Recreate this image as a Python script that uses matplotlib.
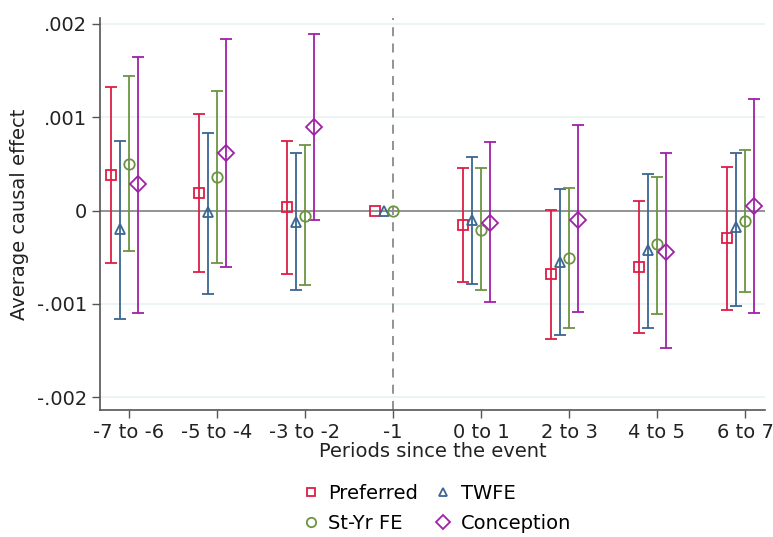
import numpy as np
import matplotlib
matplotlib.use("Agg")
import matplotlib.pyplot as plt

# event-time bins
periods = ["-7 to -6", "-5 to -4", "-3 to -2", "-1", "0 to 1", "2 to 3", "4 to 5", "6 to 7"]

# point estimates and CI bounds
pref_est = [0.00038, 0.000185, 0.000035, 0.0, -0.00016, -0.00068, -0.00061, -0.00029]
pref_lo = [-0.00056, -0.00066, -0.00068, np.nan, -0.00077, -0.00138, -0.00131, -0.00107]
pref_hi = [0.00132, 0.00103, 0.00075, np.nan, 0.00046, 0.00001, 0.0001, 0.00047]

twfe_est = [-0.0002, -0.00002, -0.00012, 0.0, -0.0001, -0.00055, -0.00042, -0.00018]
twfe_lo = [-0.00116, -0.00089, -0.00085, np.nan, -0.00079, -0.00133, -0.00126, -0.00102]
twfe_hi = [0.00075, 0.00083, 0.00062, np.nan, 0.00057, 0.00023, 0.00039, 0.00062]

styr_est = [0.0005, 0.00036, -0.00006, 0.0, -0.00021, -0.00051, -0.00036, -0.00011]
styr_lo = [-0.00043, -0.00056, -0.0008, np.nan, -0.00085, -0.00126, -0.00111, -0.00087]
styr_hi = [0.00144, 0.00128, 0.0007, np.nan, 0.00046, 0.00024, 0.00036, 0.00065]

conc_est = [0.00028, 0.000615, 0.00089, np.nan, -0.00013, -0.0001, -0.00044, 0.00005]
conc_lo = [-0.0011, -0.00061, -0.0001, np.nan, -0.00098, -0.00109, -0.00147, -0.0011]
conc_hi = [0.00165, 0.00184, 0.00189, np.nan, 0.00073, 0.00092, 0.00062, 0.0012]

series = [
    ("Preferred", pref_est, pref_lo, pref_hi, "#dc1e46", "s", -0.2, 7),
    ("TWFE", twfe_est, twfe_lo, twfe_hi, "#3a6792", "^", -0.1, 7),
    ("St-Yr FE", styr_est, styr_lo, styr_hi, "#6b9442", "o", 0.0, 7.5),
    ("Conception", conc_est, conc_lo, conc_hi, "#a020a8", "D", 0.1, 8),
]

FS = 14

fig = plt.figure(figsize=(7.73, 5.37), dpi=100)
ax = fig.add_axes([0.129, 0.236, 0.861, 0.73])

x = np.arange(len(periods))

for y in [-0.002, -0.001, 0.001, 0.002]:
    ax.axhline(y, color="#eaf2f3", lw=1.2, zorder=0)
ax.axhline(0, color="#8a8a8a", lw=1.3, zorder=1)
ax.axvline(3, color="#8a8a8a", lw=1.3, ls=(0, (5, 4)), zorder=1)

handles = {}
for name, est, lo, hi, col, mk, off, ms in series:
    est = np.array(est)
    lo = np.array(lo)
    hi = np.array(hi)
    xs = x + off
    ok = ~np.isnan(lo)
    ax.errorbar(xs[ok], est[ok], yerr=[est[ok] - lo[ok], hi[ok] - est[ok]],
                fmt="none", ecolor=col, elinewidth=1.3, capsize=4, capthick=1.3, zorder=2)
    h, = ax.plot(xs, est, ls="none", marker=mk, ms=ms, mfc="none", mec=col, mew=1.3, zorder=3)
    handles[name] = h

ax.set_xlim(-0.33, 7.23)
ax.set_ylim(-0.00214, 0.00206)
ax.set_xticks(x)
ax.set_xticklabels(periods, fontsize=FS)
ax.set_yticks([-0.002, -0.001, 0, 0.001, 0.002])
ax.set_yticklabels(["-.002", "-.001", "0", ".001", ".002"], fontsize=FS)
ax.tick_params(axis="both", length=6, width=1, color="#555555", labelcolor="#222222", pad=3)
ax.set_xlabel("Periods since the event", fontsize=FS, labelpad=0, color="#222222")
ax.set_ylabel("Average causal effect", fontsize=FS, color="#222222", labelpad=6)

for s in ["top", "right"]:
    ax.spines[s].set_visible(False)
for s in ["left", "bottom"]:
    ax.spines[s].set_color("#555555")
    ax.spines[s].set_linewidth(1.2)

order = ["Preferred", "St-Yr FE", "TWFE", "Conception"]
leg_handles = []
for name in order:
    h = handles[name]
    leg_handles.append(plt.Line2D([], [], ls="none", marker=h.get_marker(), ms=h.get_markersize() * 0.9,
                                  mfc="none", mec=h.get_markeredgecolor(), mew=1.3))
fig.legend(leg_handles, order, ncol=2, frameon=False, fontsize=FS,
           loc="center", bbox_to_anchor=(0.563, 0.053), handletextpad=0.3,
           columnspacing=0.7, labelspacing=0.55, handlelength=1.2)

fig.savefig("out.png", dpi=100)
